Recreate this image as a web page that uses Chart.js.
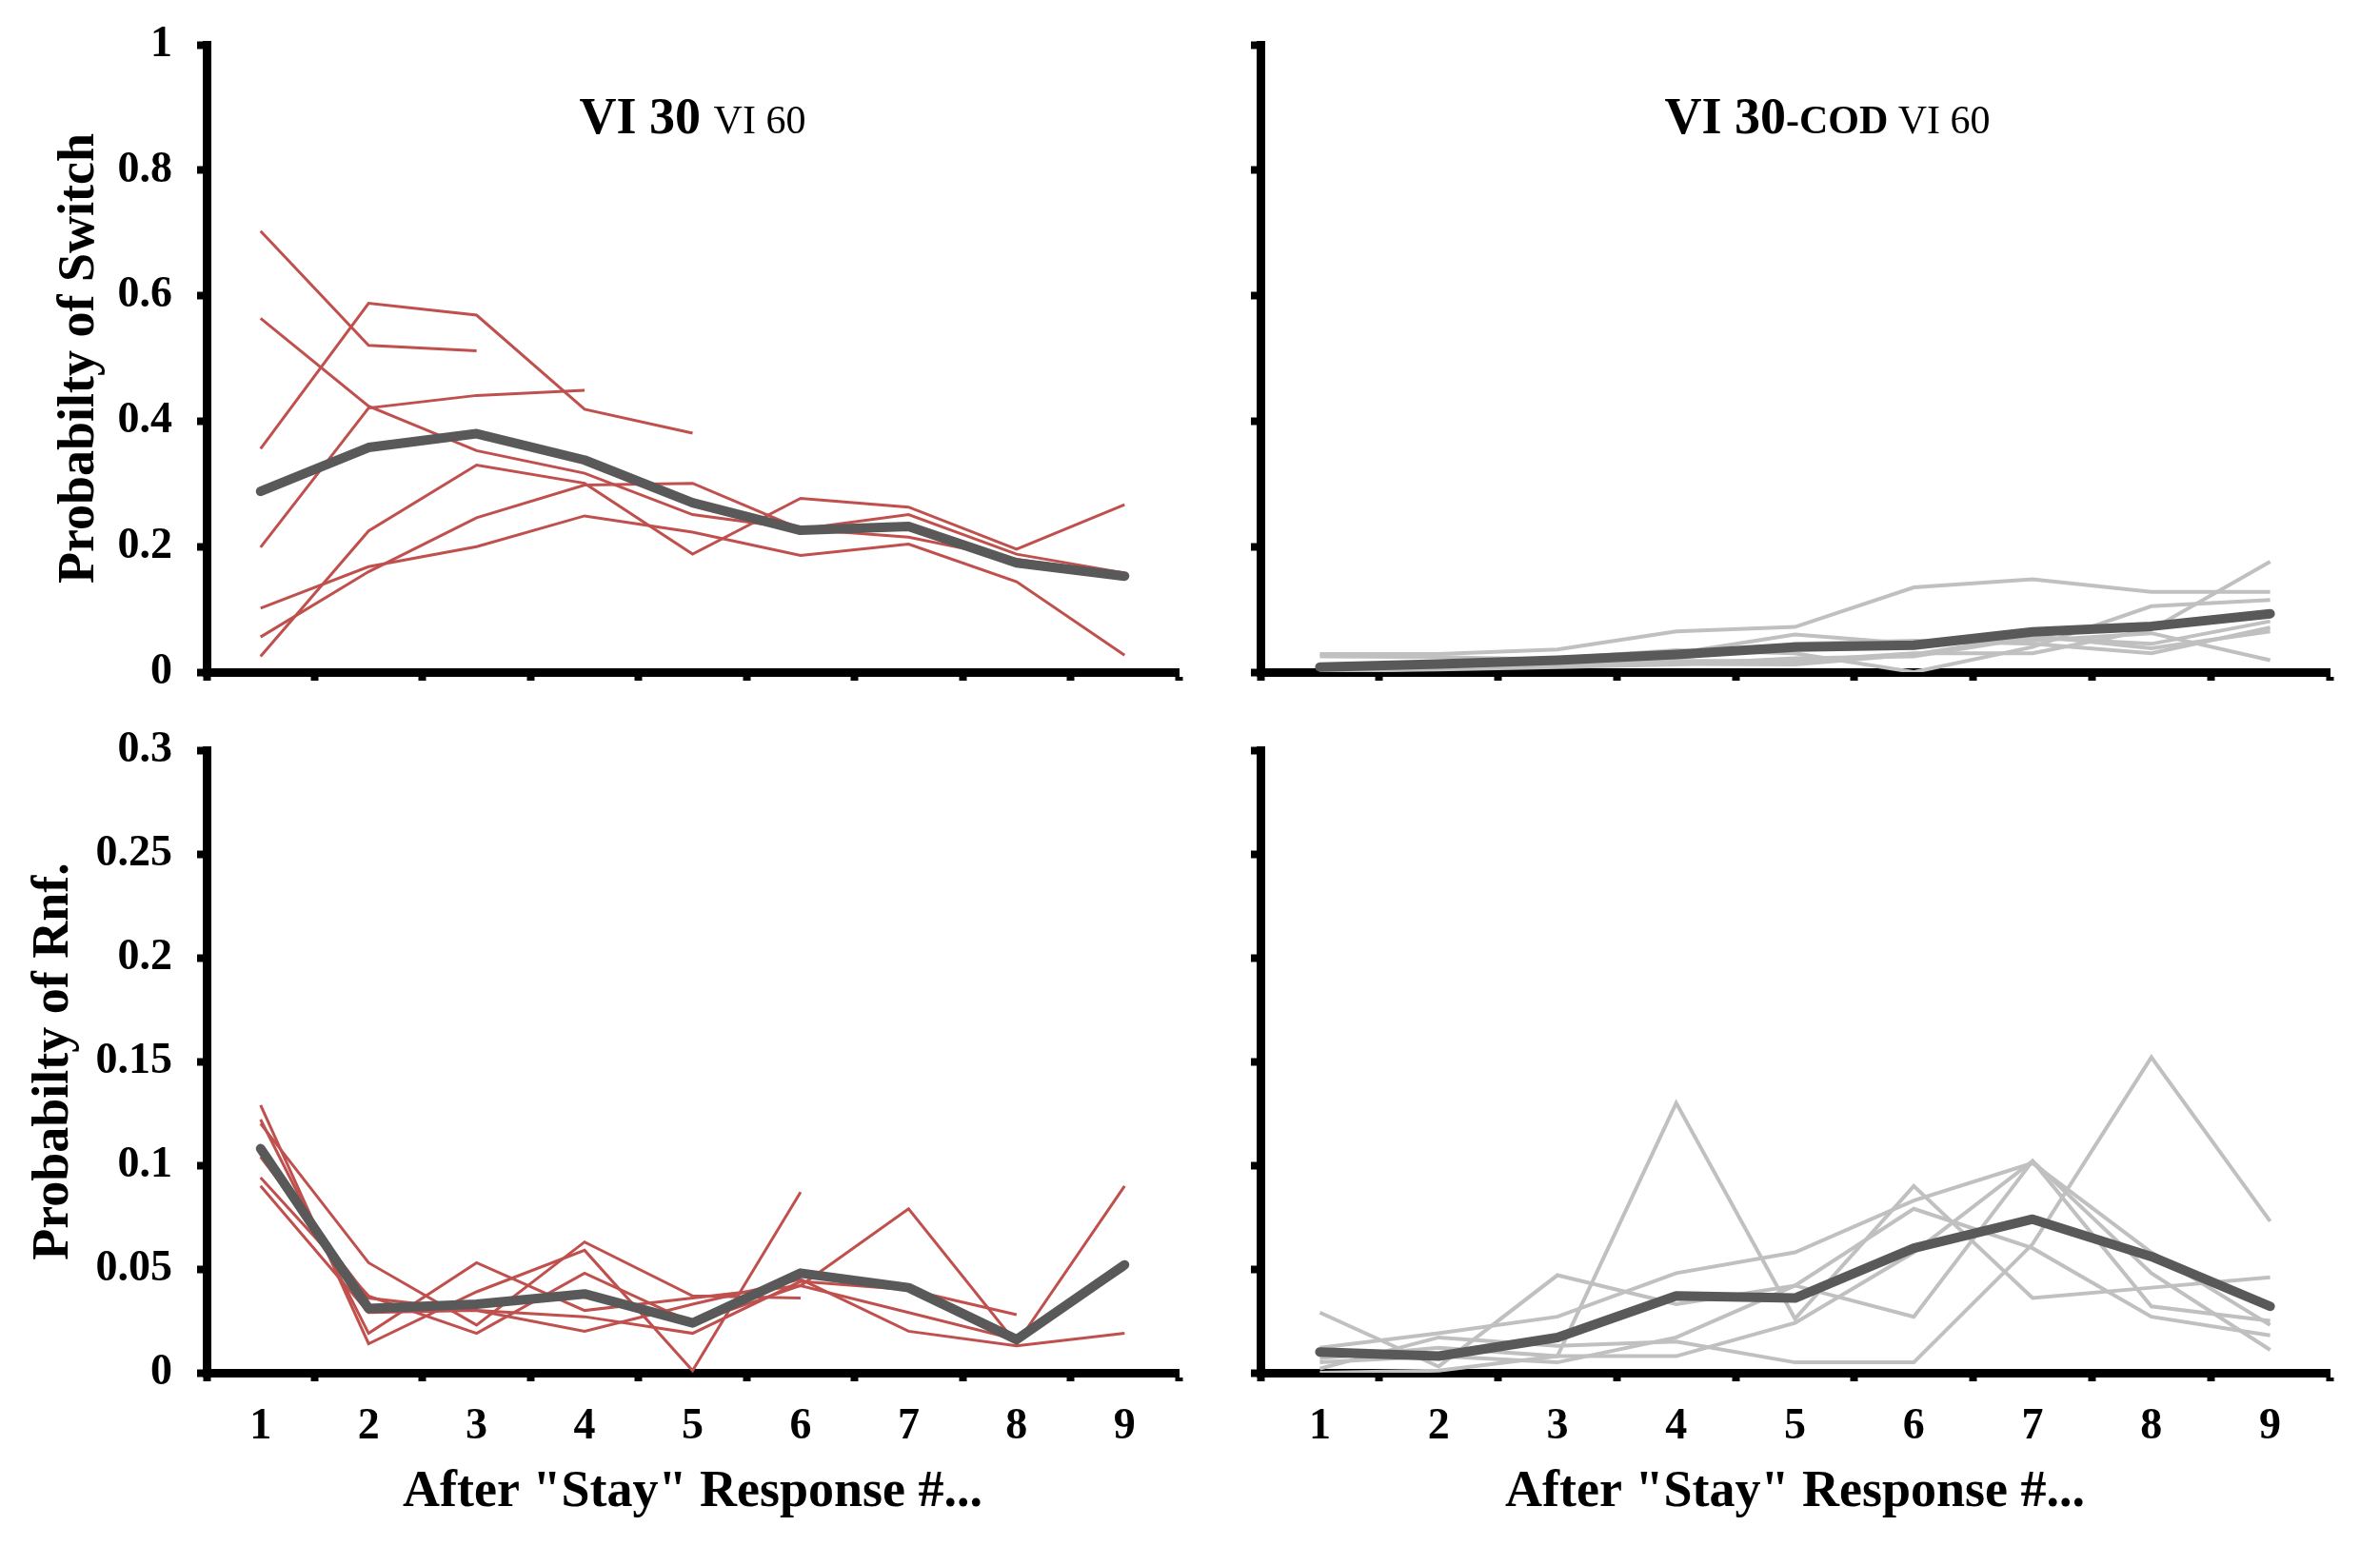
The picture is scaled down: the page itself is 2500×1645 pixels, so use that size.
<!DOCTYPE html>
<html>
<head>
<meta charset="utf-8">
<script src="https://cdn.jsdelivr.net/npm/chart.js@4.4.1/dist/chart.umd.min.js"></script>
<style>
    body { margin: 0; background: #fff; }
    .wrap { position: relative; width: 2500px; height: 1645px; background: #fff; }
    canvas { position: absolute; }
</style>
</head>
<body>
<div class="wrap">
    <canvas id="switchA" width="1260" height="760" style="left:0px;top:0px"></canvas>
    <canvas id="switchB" width="1240" height="760" style="left:1260px;top:0px"></canvas>
    <canvas id="rnfA" width="1260" height="880" style="left:0px;top:760px"></canvas>
    <canvas id="rnfB" width="1240" height="880" style="left:1260px;top:760px"></canvas>
</div>
<script>
// Categories and tick labels
const responses = ['1', '2', '3', '4', '5', '6', '7', '8', '9'];
const switchTicks = ['0', '0.2', '0.4', '0.6', '0.8', '1'];
const rnfTicks = ['0', '0.05', '0.1', '0.15', '0.2', '0.25', '0.3'];

// VI 30 VI 60 - probability of switch (mean + individual subjects)
const switchMeanA = [0.288, 0.358, 0.380, 0.338, 0.270, 0.226, 0.232, 0.174, 0.153];
const switchA1 = [0.703, 0.521, 0.512];
const switchA2 = [0.564, 0.424, 0.353, 0.317, 0.251, 0.228, 0.215, 0.180, 0.155];
const switchA3 = [0.356, 0.588, 0.569, 0.419, 0.381];
const switchA4 = [0.199, 0.421, 0.441, 0.449];
const switchA5 = [0.102, 0.168, 0.200, 0.249, 0.223, 0.186, 0.204, 0.144, 0.027];
const switchA6 = [0.056, 0.160, 0.246, 0.298, 0.301, 0.228, 0.251, 0.188, 0.158];
const switchA7 = [0.025, 0.225, 0.330, 0.301, 0.188, 0.277, 0.263, 0.196, 0.267];

// VI 30-COD VI 60 - probability of switch
const switchMeanB = [0.008, 0.013, 0.019, 0.028, 0.040, 0.043, 0.064, 0.073, 0.093];
const switchB1 = [0.029, 0.029, 0.036, 0.065, 0.072, 0.135, 0.148, 0.128, 0.128];
const switchB2 = [0.025, 0.024, 0.020, 0.030, 0.060, 0.045, 0.050, 0.062, 0.019];
const switchB3 = [0.010, 0.012, 0.022, 0.035, 0.030, 0.000, 0.040, 0.105, 0.115];
const switchB4 = [0.004, 0.010, 0.015, 0.022, 0.045, 0.050, 0.045, 0.030, 0.071];
const switchB5 = [0.000, 0.006, 0.010, 0.018, 0.018, 0.030, 0.030, 0.068, 0.176];
const switchB6 = [0.006, 0.008, 0.010, 0.013, 0.012, 0.028, 0.058, 0.038, 0.065];
const switchB7 = [0.002, 0.004, 0.008, 0.012, 0.022, 0.025, 0.055, 0.045, 0.081];

// VI 30 VI 60 - probability of reinforcement
const rnfMeanA = [0.108, 0.031, 0.033, 0.038, 0.024, 0.048, 0.041, 0.016, 0.052];
const rnfA1 = [0.129, 0.014, 0.039, 0.059, 0.001, 0.087];
const rnfA2 = [0.122, 0.019, 0.053, 0.030, 0.036, 0.042, 0.079, 0.014, 0.090];
const rnfA3 = [0.120, 0.053, 0.023, 0.063, 0.037, 0.036];
const rnfA4 = [0.104, 0.036, 0.030, 0.027, 0.019, 0.044, 0.040, 0.028];
const rnfA5 = [0.094, 0.037, 0.019, 0.048, 0.024, 0.042, 0.029, 0.016, 0.050];
const rnfA6 = [0.090, 0.029, 0.030, 0.020, 0.033, 0.045, 0.020, 0.013, 0.019];

// VI 30-COD VI 60 - probability of reinforcement
const rnfMeanB = [0.010, 0.008, 0.017, 0.037, 0.036, 0.060, 0.074, 0.056, 0.032];
const rnfB1 = [0.029, 0.003, 0.047, 0.033, 0.042, 0.027, 0.102, 0.032, 0.025];
const rnfB2 = [0.007, 0.012, 0.008, 0.130, 0.026, 0.090, 0.036, 0.041, 0.046];
const rnfB3 = [0.002, 0.017, 0.013, 0.015, 0.005, 0.005, 0.062, 0.152, 0.073];
const rnfB4 = [0.012, 0.019, 0.027, 0.048, 0.058, 0.083, 0.101, 0.058, 0.023];
const rnfB5 = [0.005, 0.008, 0.005, 0.017, 0.042, 0.079, 0.060, 0.027, 0.018];
const rnfB6 = [0.000, 0.001, 0.008, 0.008, 0.024, 0.058, 0.102, 0.048, 0.011];

const SERIF = '"Liberation Serif", "Times New Roman", serif';
const RED = '#c0504d';
const LIGHT = '#c0c0c0';
const MEAN = '#595959';

// Mixed-font panel heading ("VI 30 VI 60")
const panelTitle = {
    id: 'panelTitle',
    afterDraw(chart, args, opts) {
        if (!opts.parts) return;
        const ctx = chart.ctx;
        const area = chart.chartArea;
        ctx.save();
        ctx.fillStyle = '#000';
        ctx.textBaseline = 'alphabetic';
        let total = 0;
        opts.parts.forEach(p => {
            ctx.font = p.font;
            p.w = ctx.measureText(p.text).width;
            total += p.w;
        });
        let x = (area.left + area.right) / 2 + opts.dx - total / 2;
        const y = area.top + opts.dy;
        opts.parts.forEach(p => {
            ctx.font = p.font;
            ctx.fillText(p.text, x, y);
            x += p.w;
        });
        ctx.restore();
    }
};

function meanSet(data) {
    return {
        data: data,
        borderColor: MEAN,
        borderWidth: 10,
        borderCapStyle: 'round',
        borderJoinStyle: 'round',
        pointRadius: 0,
        tension: 0
    };
}

function subjectSet(data, color, width) {
    return {
        data: data,
        borderColor: color,
        borderWidth: width,
        pointRadius: 0,
        tension: 0
    };
}

function makePanel(id, opts) {
    const datasets = [meanSet(opts.mean)];
    opts.subjects.forEach(s => datasets.push(subjectSet(s, opts.color, opts.lineWidth)));

    return new Chart(document.getElementById(id), {
        type: 'line',
        data: { labels: responses, datasets: datasets },
        plugins: [panelTitle],
        options: {
            responsive: false,
            animation: false,
            layout: { padding: { top: opts.padTop, right: opts.padRight, left: 0, bottom: 0 } },
            plugins: {
                legend: { display: false },
                tooltip: { enabled: false },
                panelTitle: opts.heading
            },
            scales: {
                x: {
                    offset: true,
                    grid: {
                        offset: true,
                        drawOnChartArea: false,
                        drawTicks: true,
                        tickLength: 9,
                        tickWidth: 8,
                        tickColor: '#000'
                    },
                    border: { display: true, color: '#000', width: 9 },
                    ticks: {
                        display: opts.showX,
                        color: '#000',
                        padding: 21,
                        maxRotation: 0,
                        font: { family: SERIF, size: 46, weight: 'bold' }
                    },
                    title: {
                        display: opts.showX,
                        text: 'After "Stay" Response #...',
                        color: '#000',
                        padding: { top: 0, bottom: 40 },
                        font: { family: SERIF, size: 54, weight: 'bold' }
                    },
                    afterFit(scale) {
                        scale.height = opts.xHeight;
                        scale.paddingLeft = 0;
                        scale.paddingRight = 0;
                    }
                },
                y: {
                    min: 0,
                    max: opts.max,
                    grid: {
                        drawOnChartArea: false,
                        drawTicks: true,
                        tickLength: 10,
                        tickWidth: 8,
                        tickColor: '#000'
                    },
                    border: { display: true, color: '#000', width: 9 },
                    ticks: {
                        display: !!opts.yTitle,
                        stepSize: opts.step,
                        color: '#000',
                        padding: 26,
                        font: { family: SERIF, size: 46, weight: 'bold' },
                        callback: (v, i) => opts.tickLabels[i]
                    },
                    title: {
                        display: !!opts.yTitle,
                        text: opts.yTitle || '',
                        color: '#000',
                        padding: { top: opts.yTitlePad, bottom: 0 },
                        font: { family: SERIF, size: 54, weight: 'bold' }
                    },
                    afterFit(scale) {
                        scale.width = opts.yWidth;
                        scale.paddingTop = 0;
                        scale.paddingBottom = 0;
                    }
                }
            }
        }
    });
}

const headA = {
    dx: 0, dy: 93,
    parts: [
        { text: 'VI 30 ', font: 'bold 54px ' + SERIF },
        { text: 'VI 60', font: '42px ' + SERIF }
    ]
};
const headB = {
    dx: 34, dy: 93,
    parts: [
        { text: 'VI 30', font: 'bold 54px ' + SERIF },
        { text: '-COD ', font: 'bold 42px ' + SERIF },
        { text: 'VI 60', font: '42px ' + SERIF }
    ]
};

makePanel('switchA', {
    mean: switchMeanA,
    subjects: [switchA1, switchA2, switchA3, switchA4, switchA5, switchA6, switchA7],
    color: RED, lineWidth: 3,
    max: 1, step: 0.2, tickLabels: switchTicks,
    yTitle: 'Probabilty of Switch', yTitlePad: 52,
    showX: false, heading: headA,
    padTop: 47, padRight: 22, yWidth: 217, xHeight: 54
});

makePanel('switchB', {
    mean: switchMeanB,
    subjects: [switchB1, switchB2, switchB3, switchB4, switchB5, switchB6, switchB7],
    color: LIGHT, lineWidth: 4,
    max: 1, step: 0.2, tickLabels: switchTicks,
    yTitle: null, yTitlePad: 0,
    showX: false, heading: headB,
    padTop: 47, padRight: 53, yWidth: 64, xHeight: 54
});

makePanel('rnfA', {
    mean: rnfMeanA,
    subjects: [rnfA1, rnfA2, rnfA3, rnfA4, rnfA5, rnfA6],
    color: RED, lineWidth: 3,
    max: 0.3, step: 0.05, tickLabels: rnfTicks,
    yTitle: 'Probabilty of Rnf.', yTitlePad: 25,
    showX: true, heading: {},
    padTop: 28, padRight: 22, yWidth: 217, xHeight: 198
});

makePanel('rnfB', {
    mean: rnfMeanB,
    subjects: [rnfB1, rnfB2, rnfB3, rnfB4, rnfB5, rnfB6],
    color: LIGHT, lineWidth: 4,
    max: 0.3, step: 0.05, tickLabels: rnfTicks,
    yTitle: null, yTitlePad: 0,
    showX: true, heading: {},
    padTop: 28, padRight: 53, yWidth: 64, xHeight: 198
});
</script>
</body>
</html>
